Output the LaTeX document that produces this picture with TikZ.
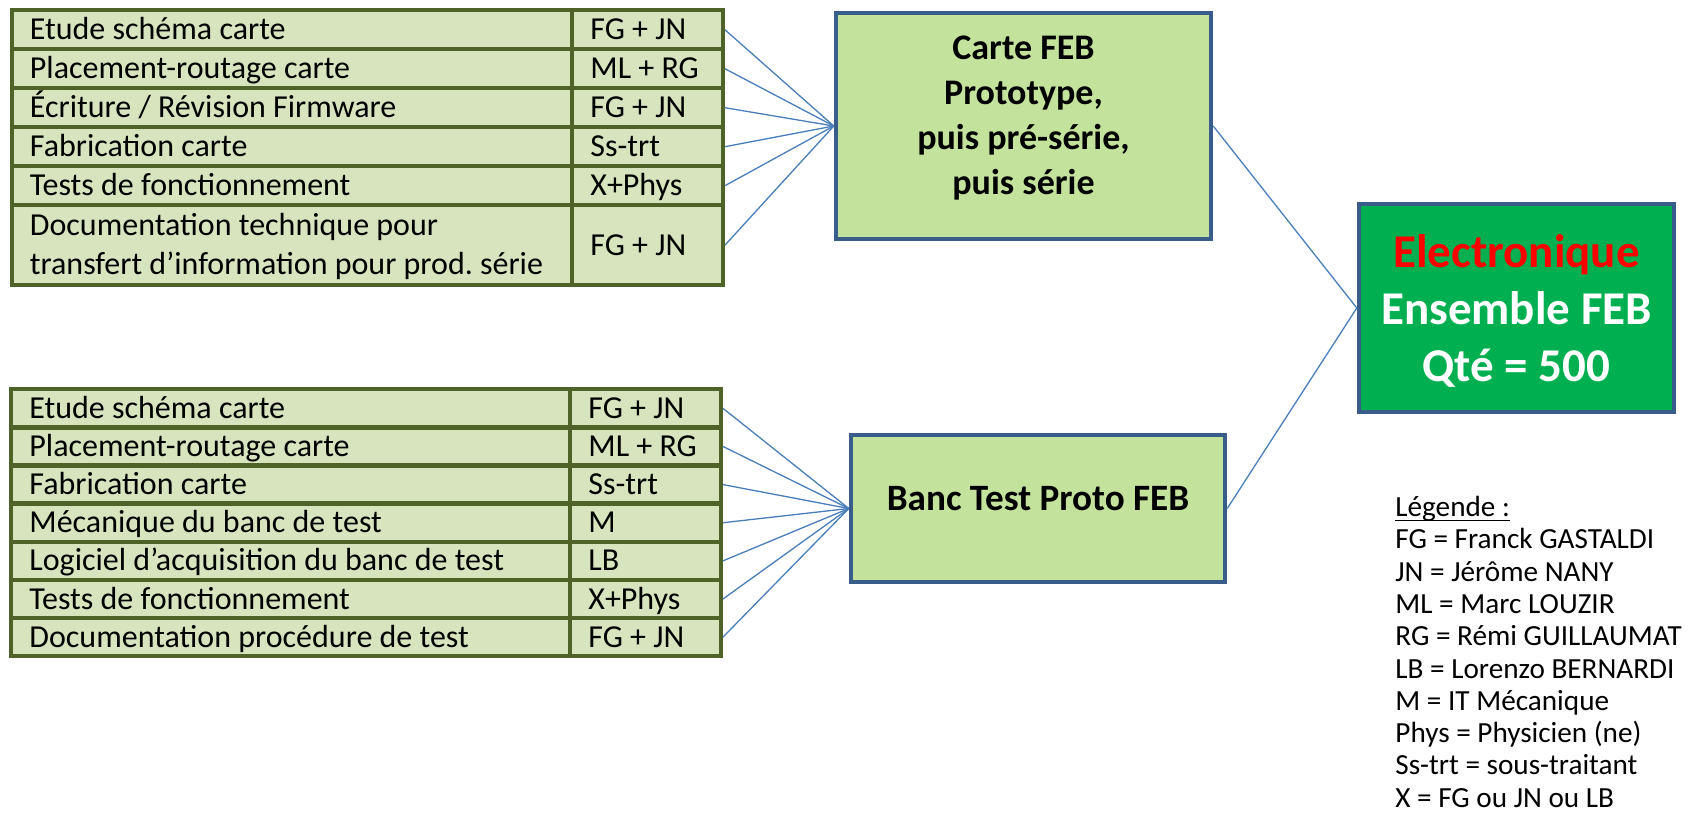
\documentclass[tikz,border=0pt]{standalone}
\usepackage{fontspec}
\setmainfont{Carlito}
\usetikzlibrary{calc,backgrounds}
\frenchspacing

\definecolor{olivedark}{HTML}{4F6228}
\definecolor{cellfill}{HTML}{D7E4BD}
\definecolor{boxfill}{RGB}{195,226,156}
\definecolor{boxline}{HTML}{385D8A}
\definecolor{groupgreen}{HTML}{00B050}
\definecolor{connblue}{HTML}{4A7EBB}

\tikzset{
  cell/.style={draw=olivedark, line width=2.2pt, fill=cellfill, inner sep=0pt, anchor=north west},
  celltext/.style={inner sep=0pt, anchor=base west, font=\fontsize{16}{19.5}\selectfont},
  mainbox/.style={draw=boxline, line width=2.2pt, fill=boxfill, inner sep=0pt},
  boxtext/.style={inner sep=0pt, align=center, font=\bfseries\fontsize{18}{22.5}\selectfont},
  conn/.style={draw=connblue, line width=0.65pt},
  legtext/.style={inner sep=0pt, anchor=base west, font=\fontsize{14.6}{16}\selectfont},
}

\begin{document}
\begin{tikzpicture}[x=0.5pt, y=-0.5pt]
\useasboundingbox (0,0) rectangle (1692,832);

% ---- tasks of the FEB board ----
\foreach \i/\task/\who in {
  1/{Etude schéma carte}/{FG + JN},
  2/{Placement-routage carte}/{ML + RG},
  3/{Écriture / Révision Firmware}/{FG + JN},
  4/{Fabrication carte}/{Ss-trt},
  5/{Tests de fonctionnement}/{X+Phys}} {
  \pgfmathsetmacro\yt{8+(\i-1)*39}
  \node[cell, minimum width=280.25pt, minimum height=19.5pt] (pa\i) at (9.5,\yt) {};
  \node[cell, minimum width=75.25pt, minimum height=19.5pt] (pb\i) at (570,\yt) {};
  \node[celltext] (pta\i) at ($(pa\i.west)+(20,10)$) {\task};
  \node[celltext] (ptb\i) at ($(pb\i.west)+(20,10)$) {\who};
}
\node[cell, minimum width=280.25pt, minimum height=40pt] (pa6) at (9.5,203) {};
\node[cell, minimum width=75.25pt, minimum height=40pt] (pb6) at (570,203) {};
\node[celltext] (pta6a) at ($(pa6.west)+(20,-10)$) {Documentation technique pour};
\node[celltext] (pta6b) at ($(pa6.west)+(20,29)$) {transfert d’information pour prod. série};
\node[celltext] (ptb6) at ($(pb6.west)+(20,10)$) {FG + JN};

% ---- tasks of the test bench ----
\foreach \i/\task/\who in {
  1/{Etude schéma carte}/{FG + JN},
  2/{Placement-routage carte}/{ML + RG},
  3/{Fabrication carte}/{Ss-trt},
  4/{Mécanique du banc de test}/{M},
  5/{Logiciel d’acquisition du banc de test}/{LB},
  6/{Tests de fonctionnement}/{X+Phys},
  7/{Documentation procédure de test}/{FG + JN}} {
  \pgfmathsetmacro\yt{387+(\i-1)*38.15}
  \node[cell, minimum width=279.5pt, minimum height=19.07pt] (ba\i) at (9,\yt) {};
  \node[cell, minimum width=75.25pt, minimum height=19.07pt] (bb\i) at (568,\yt) {};
  \node[celltext] (bta\i) at ($(ba\i.west)+(20,10)$) {\task};
  \node[celltext] (btb\i) at ($(bb\i.west)+(20,10)$) {\who};
}

% ---- deliverables ----
\node[mainbox, minimum width=187.5pt, minimum height=113pt] (carte) at (1023.5,126) {};
\node[boxtext] (carteT) at (1023.5,118) {Carte FEB\\Prototype,\\puis pré-série,\\puis série};

\node[mainbox, minimum width=187pt, minimum height=73.5pt] (banc) at (1038,508.5) {};
\node[boxtext, font=\bfseries\fontsize{18.6}{22.5}\selectfont] (bancT) at (1038,499) {Banc Test Proto FEB};

\node[mainbox, fill=groupgreen, minimum width=157.5pt, minimum height=104pt] (ens) at (1516.5,308) {};
\node[inner sep=0pt, align=center, font=\bfseries\fontsize{23.5}{28.5}\selectfont, text=white]
  (ensT) at (1516.5,311) {\textcolor{red}{Electronique}\\Ensemble FEB\\Qté = 500};

% ---- connectors ----
\begin{scope}[on background layer]
  \foreach \i in {1,...,6} \draw[conn] (pb\i.east) -- (carte.west);
  \foreach \i in {1,...,7} \draw[conn] (bb\i.east) -- (banc.west);
  \draw[conn] (carte.east) -- (ens.west);
  \draw[conn] (banc.east) -- (ens.west);
\end{scope}

% ---- legend ----
\foreach \k/\line in {
  0/{Légende :},
  1/{FG = Franck GASTALDI},
  2/{JN = Jérôme NANY},
  3/{ML = Marc LOUZIR},
  4/{RG = Rémi GUILLAUMAT},
  5/{LB = Lorenzo BERNARDI},
  6/{M = IT Mécanique},
  7/{Phys = Physicien (ne)},
  8/{Ss-trt = sous-traitant},
  9/{X = FG ou JN ou LB}} {
  \node[legtext] (leg\k) at (1395,{516.5+\k*32.3}) {\line};
}
% underline of the legend title
\draw[line width=0.7pt] ($(leg0.base west)+(0,4)$) -- ($(leg0.base east)+(0,4)$);
\end{tikzpicture}
\end{document}
